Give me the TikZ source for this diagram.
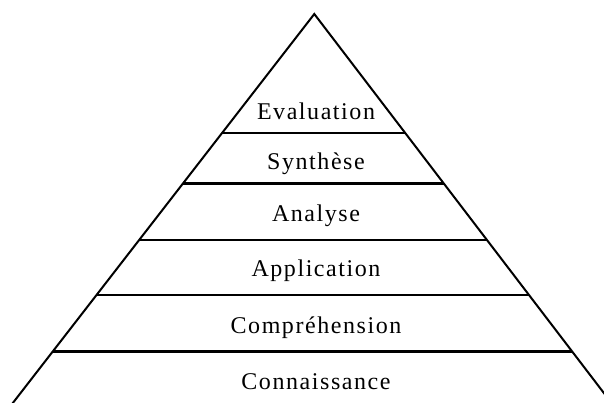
\documentclass[tikz,border=0pt]{standalone}
\usepackage{fontspec}
\setmainfont{Liberation Serif}
\usetikzlibrary{calc}
\begin{document}
\begin{tikzpicture}[x=1pt,y=-1pt,
  side/.style={line width=2pt,line join=miter},
  level/.style={line width=2.8pt},
  lbl/.style={font=\fontsize{24}{28}\selectfont\addfontfeature{LetterSpace=6.5}, inner sep=0pt, anchor=base}]
\useasboundingbox (0,0) rectangle (604,403);
\clip (0,0) rectangle (604,403);
\coordinate (apex) at (314.3,14);
\coordinate (bl) at ($(apex)+(-0.775*400,400)$);
\coordinate (br) at ($(apex)+(0.764*400,400)$);
\draw[side] (bl) -- (apex) -- (br);
\foreach \y/\n in {133/a,183.5/b,240/c,295/d,351.7/e}{
  \coordinate (L\n) at ($(apex)+(-0.775*\y+0.775*14,\y-14)$);
  \coordinate (R\n) at ($(apex)+(0.764*\y-0.764*14,\y-14)$);
  \draw[level] (L\n) -- (R\n);
}
\node[lbl] (t1) at (316,120) {Evaluation};
\node[lbl] (t2) at (316,170) {Synthèse};
\node[lbl] (t3) at (316,222) {Analyse};
\node[lbl] (t4) at (316,276) {Application};
\node[lbl] (t5) at (316,333) {Compréhension};
\node[lbl] (t6) at (316,389) {Connaissance};
\end{tikzpicture}
\end{document}
